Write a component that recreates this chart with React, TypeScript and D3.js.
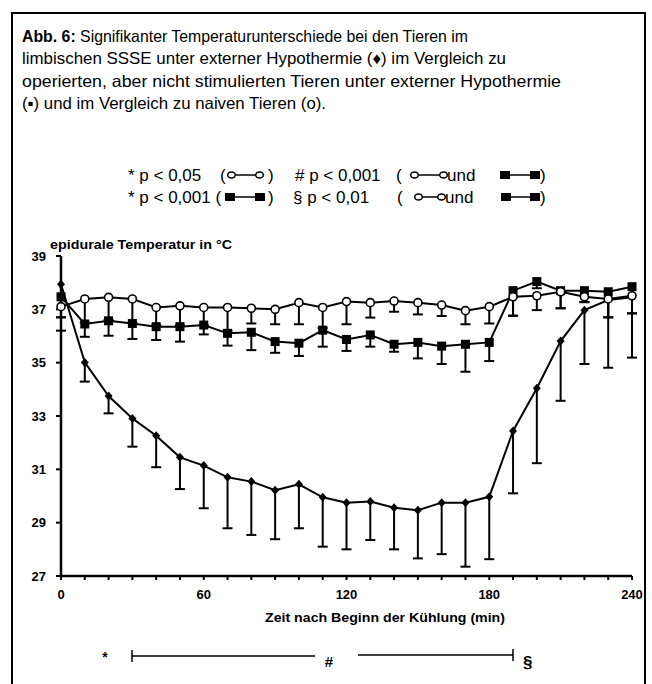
import React from "react";
import * as d3 from "d3";

const times = [0,10,20,30,40,50,60,70,80,90,100,110,120,130,140,150,160,170,180,190,200,210,220,230,240];

const naiveMean = [37.1,37.39,37.45,37.39,37.07,37.13,37.07,37.07,37.04,37.0,37.25,37.07,37.29,37.25,37.31,37.25,37.16,36.95,37.1,37.47,37.51,37.66,37.47,37.39,37.51];
const naiveLow = [36.7,36.5,36.6,36.5,36.4,36.4,36.4,36.2,36.47,36.44,36.44,36.3,36.44,36.69,36.91,36.81,36.75,36.44,36.47,36.76,36.97,37.04,37.27,36.7,36.85];

const operMean = [37.47,36.45,36.57,36.47,36.35,36.35,36.41,36.1,36.14,35.79,35.73,36.22,35.87,36.04,35.69,35.76,35.62,35.69,35.76,37.7,38.04,37.7,37.7,37.66,37.85];
const operLow = [36.7,35.97,36.01,35.89,35.85,35.79,36.06,35.64,35.47,35.37,35.25,35.6,35.44,35.6,35.41,35.16,34.95,34.66,35.06,36.76,37.79,37.04,37.27,36.7,36.85];

const sseMean = [37.94,35.01,33.75,32.91,32.26,31.45,31.14,30.7,30.54,30.22,30.44,29.95,29.75,29.79,29.56,29.47,29.75,29.75,29.97,32.44,34.04,35.81,36.97,37.35,37.45];
const sseLow = [36.2,34.29,33.1,31.85,31.08,30.26,29.54,28.79,28.54,28.38,28.79,28.1,28.0,28.35,28.0,27.66,27.82,27.35,27.63,30.1,31.23,33.57,34.95,34.81,35.19];

const yTicks = [27,29,31,33,35,37,39];
const xTickLabels = [0,60,120,180,240];

const titleLines = [
  { bold: "Abb. 6:", rest: " Signifikanter Temperaturunterschiede bei den Tieren im", w: 446 },
  { bold: "", rest: "limbischen SSSE unter externer Hypothermie (\u2666) im Vergleich zu", w: 484 },
  { bold: "", rest: "operierten, aber nicht stimulierten Tieren  unter externer Hypothermie", w: 539 },
  { bold: "", rest: "(\u25AA) und im Vergleich zu naiven Tieren (o).", w: 304 },
];

export default function App() {
  const x = d3.scaleLinear().domain([0, 240]).range([61, 632]);
  const y = d3.scaleLinear().domain([27, 39]).range([576, 256]);
  const line = d3.line<number>().x((_, i) => x(times[i])).y((v) => y(v));
  const font = "'Liberation Sans', Arial, sans-serif";

  const errBars = (mean: number[], low: number[], key: string) =>
    mean.map((m, i) => (
      <g key={key + i} stroke="#000" strokeWidth={2}>
        <line x1={x(times[i])} x2={x(times[i])} y1={y(m)} y2={y(low[i])} />
        <line x1={x(times[i]) - 5} x2={x(times[i]) + 5} y1={y(low[i])} y2={y(low[i])} />
      </g>
    ));

  const legCircles = (x1: number, x2: number, cy: number) => (
    <g>
      <line x1={x1} x2={x2} y1={cy} y2={cy} stroke="#000" strokeWidth={1.5} />
      <ellipse cx={x1 + 3.5} cy={cy} rx={3.8} ry={3} fill="#fff" stroke="#000" strokeWidth={1.5} />
      <ellipse cx={x2 - 3.5} cy={cy} rx={3.8} ry={3} fill="#fff" stroke="#000" strokeWidth={1.5} />
    </g>
  );
  const legSquares = (x1: number, x2: number, cy: number) => (
    <g>
      <line x1={x1} x2={x2} y1={cy} y2={cy} stroke="#000" strokeWidth={1.5} />
      <rect x={x1} y={cy - 4} width={10} height={8} fill="#000" />
      <rect x={x2 - 10} y={cy - 4} width={10} height={8} fill="#000" />
    </g>
  );

  const lf = { fontFamily: font, fontSize: 17 } as const;

  return (
    <svg width={652} height={684} style={{ position: "absolute", left: 0, top: 0, background: "#fff" }}>
      <rect x={0} y={0} width={652} height={684} fill="#fff" />
      <rect x={12} y={13} width={633} height={690} fill="none" stroke="#000" strokeWidth={2} />

      {titleLines.map((t, i) => (
        <text key={i} x={22} y={41.5 + i * 22.5} fontFamily={font} fontSize={16.5} textLength={t.w} lengthAdjust="spacingAndGlyphs">
          {t.bold && <tspan fontWeight="bold">{t.bold}</tspan>}
          <tspan>{t.rest}</tspan>
        </text>
      ))}

      {/* legend */}
      <text x={128} y={181} {...lf}>* p &lt; 0,05</text>
      <text x={220} y={181} {...lf}>(</text>
      {legCircles(228, 263, 175)}
      <text x={268} y={181} {...lf}>)</text>
      <text x={295} y={181} {...lf}># p &lt; 0,001</text>
      <text x={396} y={181} {...lf}>(</text>
      {legCircles(411, 447, 175)}
      <text x={447} y={181} {...lf}>und</text>
      {legSquares(500, 540, 175)}
      <text x={540} y={181} {...lf}>)</text>

      <text x={128} y={203} {...lf}>* p &lt; 0,001 (</text>
      {legSquares(225, 265, 197)}
      <text x={268} y={203} {...lf}>)</text>
      <text x={293} y={203} {...lf}>§ p &lt; 0,01</text>
      <text x={397} y={203} {...lf}>(</text>
      {legCircles(415, 445, 197)}
      <text x={445} y={203} {...lf}>und</text>
      {legSquares(501, 540, 197)}
      <text x={540} y={203} {...lf}>)</text>

      {/* axis titles */}
      <text x={50} y={249} fontFamily={font} fontSize={13} fontWeight="bold" textLength={182} lengthAdjust="spacingAndGlyphs">epidurale Temperatur in °C</text>
      <text x={265} y={622} fontFamily={font} fontSize={13.5} fontWeight="bold" textLength={240} lengthAdjust="spacingAndGlyphs">Zeit nach Beginn der Kühlung (min)</text>

      {/* axes */}
      <line x1={x(0)} x2={x(0)} y1={y(39)} y2={y(27)} stroke="#000" strokeWidth={2.5} />
      <line x1={x(0)} x2={x(240)} y1={y(27)} y2={y(27)} stroke="#000" strokeWidth={2.5} />
      {yTicks.map((t) => (
        <g key={"yt" + t}>
          <line x1={x(0) - 5} x2={x(0)} y1={y(t)} y2={y(t)} stroke="#000" strokeWidth={2} />
          <text x={46} y={y(t) + 4.5} textAnchor="end" fontFamily={font} fontSize={13} fontWeight="bold">{t}</text>
        </g>
      ))}
      {times.map((t) => (
        <line key={"xt" + t} x1={x(t)} x2={x(t)} y1={y(27)} y2={y(27) + 4} stroke="#000" strokeWidth={2} />
      ))}
      {xTickLabels.map((t) => (
        <text key={"xl" + t} x={x(t)} y={599} textAnchor="middle" fontFamily={font} fontSize={13} fontWeight="bold">{t}</text>
      ))}

      {/* error bars */}
      {errBars(sseMean, sseLow, "s")}
      {errBars(operMean, operLow, "o")}
      {errBars(naiveMean, naiveLow, "n")}

      {/* lines */}
      <path d={line(sseMean) || ""} fill="none" stroke="#000" strokeWidth={2} />
      <path d={line(operMean) || ""} fill="none" stroke="#000" strokeWidth={2} />
      <path d={line(naiveMean) || ""} fill="none" stroke="#000" strokeWidth={2} />

      {/* markers */}
      {sseMean.map((v, i) => (
        <path key={"dm" + i} d={`M${x(times[i])},${y(v) - 4.5}L${x(times[i]) + 4},${y(v)}L${x(times[i])},${y(v) + 4.5}L${x(times[i]) - 4},${y(v)}Z`} fill="#000" />
      ))}
      {operMean.map((v, i) => (
        <rect key={"sq" + i} x={x(times[i]) - 4.5} y={y(v) - 4.5} width={9} height={9} fill="#000" />
      ))}
      {naiveMean.map((v, i) => (
        <circle key={"ci" + i} cx={x(times[i])} cy={y(v)} r={4} fill="#fff" stroke="#000" strokeWidth={1.6} />
      ))}

      {/* significance annotation */}
      <text x={105} y={662} textAnchor="middle" fontFamily={font} fontSize={14} fontWeight="bold">*</text>
      <line x1={132} x2={315} y1={656} y2={656} stroke="#000" strokeWidth={1.5} />
      <line x1={132} x2={132} y1={650} y2={662} stroke="#000" strokeWidth={1.5} />
      <text x={329} y={667} textAnchor="middle" fontFamily={font} fontSize={15} fontWeight="bold">#</text>
      <line x1={358} x2={513} y1={655} y2={655} stroke="#000" strokeWidth={1.5} />
      <line x1={513} x2={513} y1={649} y2={661} stroke="#000" strokeWidth={1.5} />
      <text x={523} y={668} fontFamily={font} fontSize={17} fontWeight="bold">§</text>
    </svg>
  );
}
